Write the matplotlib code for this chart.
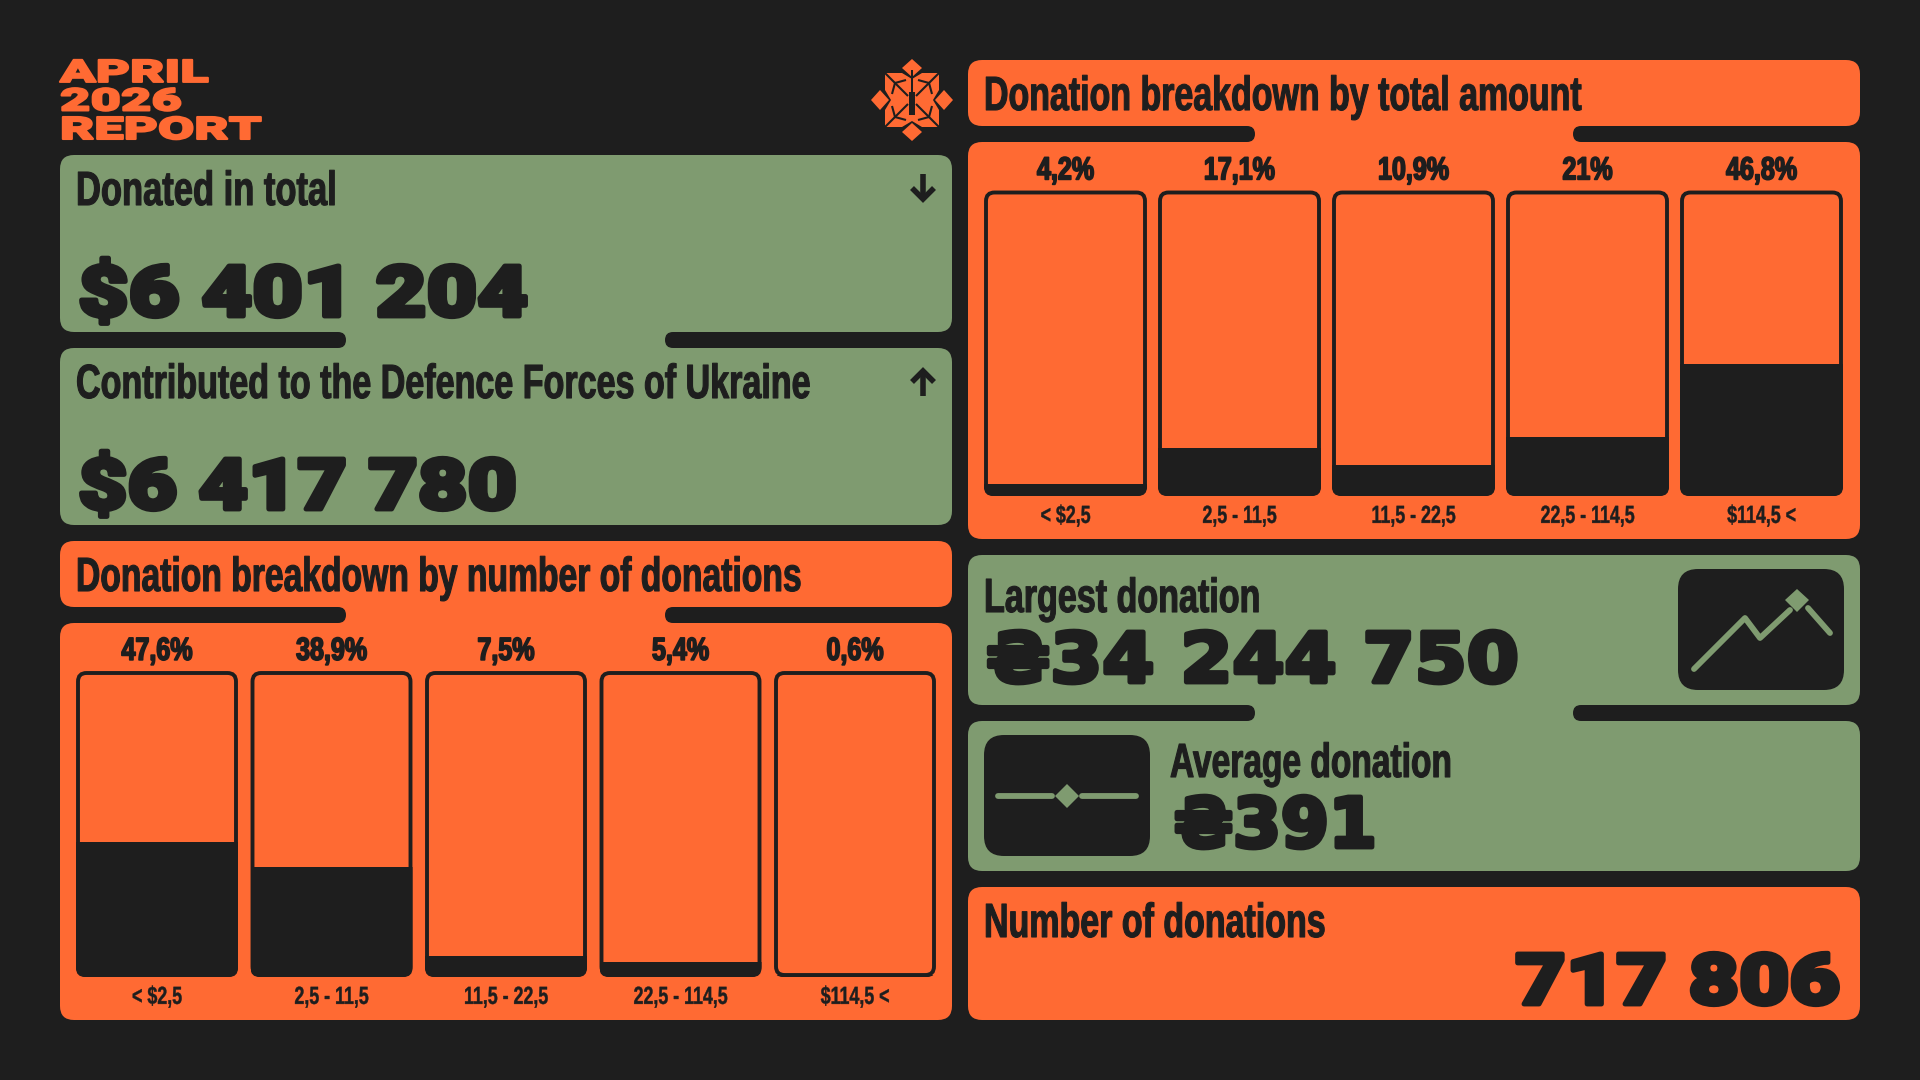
import matplotlib
matplotlib.use("Agg")
import matplotlib.pyplot as plt
import matplotlib.patheffects as pe
from matplotlib.font_manager import FontProperties
from matplotlib.patches import FancyBboxPatch, Polygon, Rectangle
from matplotlib.textpath import TextPath
from matplotlib.transforms import Affine2D

BG = "#1E1E1E"
ORANGE = "#FF6A33"
GREEN = "#7F9B70"

NARROW = ["Liberation Sans", "DejaVu Sans"]
WIDE = ["Roboto", "DejaVu Sans"]
HRYVNIA = ["DejaVu Sans"]

brackets = ["< $2,5", "2,5 - 11,5", "11,5 - 22,5", "22,5 - 114,5", "$114,5 <"]
share_by_number = [47.6, 38.9, 7.5, 5.4, 0.6]
share_by_amount = [4.2, 17.1, 10.9, 21, 46.8]

donated_total = "$6 401 204"
contributed_total = "$6 417 780"
largest_donation = "₴34 244 750"
average_donation = "₴391"
donation_count = "717 806"

report_title = "APRIL\n2026\nREPORT"


class Tall(pe.AbstractPathEffect):
    # stretch a text upwards from its baseline, optional outline to make it heavier
    def __init__(self, sy=1.0, stroke=0.0):
        self.sy, self.stroke = sy, stroke

    def draw_path(self, renderer, gc, tpath, affine, rgbFace=None):
        y0 = affine.get_matrix()[1, 2]
        aff = affine + Affine2D().translate(0, -y0).scale(1, self.sy).translate(0, y0)
        gc0 = renderer.new_gc()
        gc0.copy_properties(gc)
        if self.stroke:
            gc0.set_linewidth(self.stroke)
            gc0.set_foreground(rgbFace)
        renderer.draw_path(gc0, tpath, aff, rgbFace)
        gc0.restore()


def fit(s, width, height, family, weight="bold"):
    # font size in points so s is width px wide, and the stretch to get cap height px
    prop = FontProperties(family=family, weight=weight)
    em = width / TextPath((0, 0), s, size=1, prop=prop).get_extents().width
    cap = TextPath((0, 0), "H", size=1, prop=prop).get_extents().height * em
    return em * 72 / 100, height / cap


fig = plt.figure(figsize=(19.2, 10.8), dpi=100, facecolor=BG)
bg = fig.add_axes([0, 0, 1, 1])
bg.set_xlim(0, 1920)
bg.set_ylim(1080, 0)
bg.axis("off")


def panel(x0, y0, x1, y1, color, r=14, ax=bg):
    p = FancyBboxPatch((x0 + r, y0 + r), x1 - x0 - 2 * r, y1 - y0 - 2 * r,
                       boxstyle=f"round,pad={r},rounding_size={r}",
                       fc=color, ec="none", mutation_aspect=1)
    ax.add_patch(p)
    return p


def link(x0, x1, y0, y1, xa, xb, color):
    # two panels joined in the middle, dark pills on both sides
    bg.add_patch(Rectangle((xa - 30, y0 - 2), xb - xa + 60, y1 - y0 + 4, fc=color, ec="none"))
    panel(x0 - 8, y0, xa, y1, BG, r=(y1 - y0) / 2)
    panel(xb, y0, x1 + 8, y1, BG, r=(y1 - y0) / 2)


def label(x, y, s, width, height, color=BG, ha="left", stroke=0.8):
    size, sy = fit(s, width, height, NARROW)
    bg.text(x, y, s, fontsize=size, color=color, ha=ha, va="baseline", fontweight="bold",
            family=NARROW, path_effects=[Tall(sy, stroke)])


def number(x, y, s, width, ha="left", family=WIDE, weight=900):
    size, sy = fit(s, width, 50, family, weight)
    bg.text(x, y, s, fontsize=size, color=BG, ha=ha, va="baseline", fontweight=weight,
            family=family, path_effects=[Tall(sy, 3.5)])


# panels
panel(60, 155, 952, 332, GREEN)
panel(60, 348, 952, 525, GREEN)
link(60, 952, 332, 348, 346, 665, GREEN)

panel(60, 541, 952, 607, ORANGE)
panel(60, 623, 952, 1020, ORANGE)
link(60, 952, 607, 623, 346, 665, ORANGE)

panel(968, 60, 1860, 126, ORANGE)
panel(968, 142, 1860, 539, ORANGE)
link(968, 1860, 126, 142, 1255, 1573, ORANGE)

panel(968, 555, 1860, 705, GREEN)
panel(968, 721, 1860, 871, GREEN)
link(968, 1860, 705, 721, 1255, 1573, GREEN)

panel(968, 887, 1860, 1020, ORANGE)

# report title, one block so the three lines keep a tight step
title_size, title_sy = fit("REPORT", 198, 22, WIDE, 900)
title_prop = FontProperties(family=WIDE, weight=900)
title_px = title_size * 100 / 72
title_asc = TextPath((0, 0), "l", size=title_px, prop=title_prop).get_extents().y1
title_desc = -TextPath((0, 0), "p", size=title_px, prop=title_prop).get_extents().y0
bg.text(60, 139, report_title, fontsize=title_size, color=ORANGE, ha="left", va="baseline",
        fontweight=900, family=WIDE, linespacing=(28 - title_desc) / title_asc,
        path_effects=[Tall(title_sy, 1.5)])

# logo
cx, cy = 912, 100
for rot in range(4):
    t = Affine2D().rotate_deg(90 * rot).translate(cx, cy) + bg.transData
    bg.add_patch(Polygon([(0, -21), (-10, -27), (-27, -27), (-27, -10), (-21, 0), (0, 0)],
                         fc=ORANGE, ec="none", transform=t))
    bg.add_patch(Polygon([(0, -41), (10, -32), (0, -23), (-10, -32)], fc=ORANGE, ec="none", transform=t))
    for end in [(27, -27), (6, -20), (20, -6), (4, -4)]:
        bg.plot([17, end[0]], [-17, end[1]], color=BG, lw=1.5, transform=t, solid_capstyle="butt")
bg.add_patch(Rectangle((cx - 3, cy - 8), 6, 23, fc=BG, ec="none"))
bg.add_patch(Rectangle((cx - 1, cy - 30), 2, 24, fc=BG, ec="none"))

# arrows
for tip, tail, wing in [(199, 174, -11), (371, 396, 11)]:
    bg.plot([923, 923], [tail, tip], color=BG, lw=4, solid_capstyle="butt")
    bg.plot([912, 923, 934], [tip + wing, tip, tip + wing], color=BG, lw=4,
            solid_joinstyle="miter", solid_capstyle="butt")

# headings
label(76, 205, "Donated in total", 256, 33)
label(76, 398, "Contributed to the Defence Forces of Ukraine", 732, 33)
label(76, 591, "Donation breakdown by number of donations", 722, 33)
label(984, 110, "Donation breakdown by total amount", 595, 33)
label(984, 612, "Largest donation", 272, 33)
label(1170, 777, "Average donation", 279, 33)
label(984, 937, "Number of donations", 338, 33)

# big numbers, the hryvnia sign is only legible in DejaVu
number(78, 316, donated_total, 444)
number(78, 509, contributed_total, 432)
number(986, 682, largest_donation, 526, family=HRYVNIA, weight="bold")
number(1174, 847, average_donation, 195, family=HRYVNIA, weight="bold")
number(1840, 1004, donation_count, 320, ha="right")

# icon boxes
panel(1678, 569, 1844, 690, BG, r=20)
bg.plot([1694, 1745, 1760, 1790], [669, 618, 638, 610], color=GREEN, lw=4.2, solid_capstyle="round")
bg.plot([1808, 1830], [608, 633], color=GREEN, lw=4.2, solid_capstyle="round")
bg.add_patch(Polygon([(1797, 589), (1809, 600), (1797, 612), (1785, 600)], fc=GREEN, ec="none"))

panel(984, 735, 1150, 856, BG, r=20)
bg.plot([998, 1052], [796, 796], color=GREEN, lw=4.2, solid_capstyle="round")
bg.plot([1082, 1136], [796, 796], color=GREEN, lw=4.2, solid_capstyle="round")
bg.add_patch(Polygon([(1067, 784), (1079, 796), (1067, 808), (1055, 796)], fc=GREEN, ec="none"))


def bar_chart(left, top, bottom, width, gap, values):
    pitch = width + gap
    total = 5 * width + 4 * gap
    ax = fig.add_axes([left / 1920, 1 - bottom / 1080, total / 1920, (bottom - top) / 1080])
    ax.patch.set_alpha(0)
    half = width / pitch / 2
    ax.set_xlim(-half, 4 + half)
    ax.set_ylim(0, 108)
    for s in ax.spines.values():
        s.set_visible(False)
    ax.set_yticks([])
    ax.set_xticks(range(5))
    tick_size, tick_sy = fit("22,5 - 114,5", 93, 17, NARROW)
    ax.set_xticklabels(brackets, family=NARROW, fontsize=tick_size, fontweight="bold", color=BG)
    for t in ax.get_xticklabels():
        t.set_path_effects([Tall(tick_sy, 0.3)])
    ax.tick_params(axis="x", length=0, pad=10)
    pct_size, pct_sy = fit("47,6%", 70, 22, NARROW)
    bars = ax.bar(range(5), values, width=2 * half, color=BG, linewidth=0)
    for i, (bar, v) in enumerate(zip(bars, values)):
        x0 = left + i * pitch
        clip = panel(x0, top, x0 + width, bottom, "none", r=9)
        bar.set_clip_path(clip)
        border = FancyBboxPatch((x0 + 10.5, top + 10.5), width - 21, bottom - top - 21,
                                boxstyle="round,pad=8.5,rounding_size=8.5", fc="none", ec=BG,
                                lw=2.8, transform=bg.transData, clip_on=False)
        ax.add_patch(border)
        ax.annotate(f"{v:g}".replace(".", ",") + "%", (i, 108), xytext=(0, 8),
                    textcoords="offset points", ha="center", va="baseline", fontsize=pct_size,
                    fontweight="bold", color=BG, family=NARROW, annotation_clip=False,
                    path_effects=[Tall(pct_sy, 1.2)])
    return ax


bar_chart(76, 671, 977, 162, 12.5, share_by_number)
bar_chart(984, 190.5, 496, 163, 11, share_by_amount)

fig.savefig("out.png", dpi=100, facecolor=BG)
